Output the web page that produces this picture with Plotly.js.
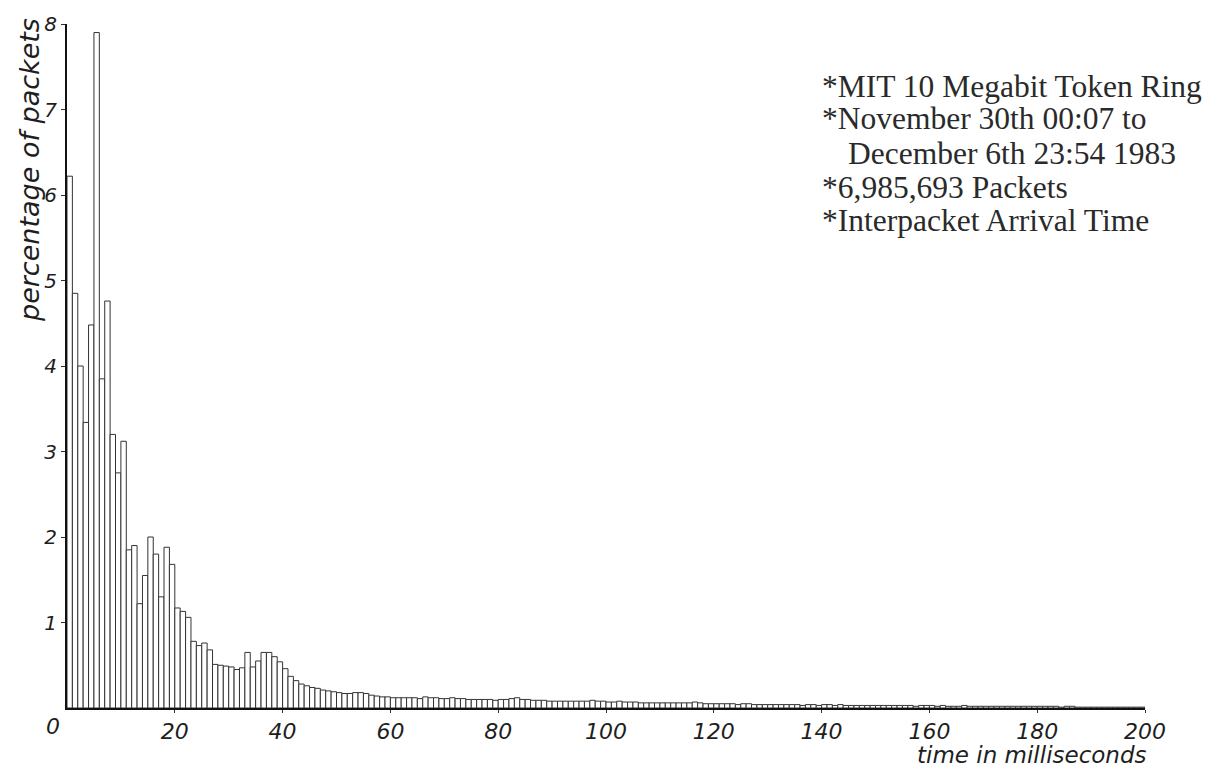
<!DOCTYPE html>
<html>
<head>
<meta charset="utf-8">
<script src="https://cdn.plot.ly/plotly-3.0.1.min.js"></script>
<style>
  html, body { margin: 0; padding: 0; background: #ffffff; }
  #chart { width: 1212px; height: 769px; }
</style>
</head>
<body>
<div id="chart"></div>
<script>
// Percentage of packets per 1 ms bin of interpacket arrival time
// bins 0..47 ms
const pctEarly = [6.22, 4.85, 4.00, 3.34, 4.48, 7.90, 3.85, 4.76, 3.20, 2.75,
                  3.12, 1.85, 1.90, 1.22, 1.55, 2.00, 1.80, 1.30, 1.88, 1.68,
                  1.17, 1.13, 1.06, 0.78, 0.73, 0.76, 0.68, 0.51, 0.50, 0.49,
                  0.48, 0.45, 0.47, 0.65, 0.48, 0.55, 0.65, 0.65, 0.60, 0.54,
                  0.46, 0.37, 0.32, 0.28, 0.26, 0.24, 0.23, 0.21];
// bins 48..199 ms
const pctTail = [0.20, 0.19,
                 0.18, 0.17, 0.17, 0.18, 0.18, 0.17, 0.15, 0.14, 0.13, 0.13,
                 0.12, 0.12, 0.12, 0.12, 0.12, 0.11, 0.13, 0.12, 0.12, 0.11,
                 0.11, 0.12, 0.11, 0.11, 0.10, 0.10, 0.10, 0.10, 0.10, 0.09,
                 0.10, 0.10, 0.11, 0.12, 0.10, 0.10, 0.09, 0.09, 0.09, 0.08,
                 0.08, 0.08, 0.08, 0.08, 0.08, 0.08, 0.08, 0.09, 0.08, 0.08,
                 0.07, 0.07, 0.08, 0.07, 0.07, 0.07, 0.06, 0.06, 0.06, 0.06,
                 0.06, 0.06, 0.06, 0.06, 0.06, 0.06, 0.07, 0.06, 0.05, 0.05,
                 0.05, 0.05, 0.05, 0.05, 0.04, 0.05, 0.05, 0.04, 0.04, 0.04,
                 0.04, 0.04, 0.04, 0.04, 0.04, 0.04, 0.03, 0.04, 0.04, 0.03,
                 0.04, 0.04, 0.03, 0.04, 0.03, 0.03, 0.03, 0.03, 0.03, 0.03,
                 0.03, 0.03, 0.03, 0.03, 0.03, 0.03, 0.03, 0.02, 0.03, 0.03,
                 0.03, 0.02, 0.03, 0.02, 0.02, 0.02, 0.03, 0.02, 0.02, 0.02,
                 0.02, 0.02, 0.02, 0.02, 0.02, 0.02, 0.02, 0.02, 0.02, 0.02,
                 0.02, 0.02, 0.02, 0.02, 0.01, 0.02, 0.02, 0.01, 0.01, 0.01,
                 0.01, 0.01, 0.01, 0.01, 0.01, 0.01, 0.01, 0.01, 0.01, 0.01];

const xTickVals = [20, 40, 60, 80, 100, 120, 140, 160, 180, 200];
const yTickVals = [1, 2, 3, 4, 5, 6, 7, 8];

const noteLines = ["*MIT 10 Megabit Token Ring",
                   "*November 30th 00:07 to",
                   "December 6th 23:54 1983",
                   "*6,985,693 Packets",
                   "*Interpacket Arrival Time"];

const pct = pctEarly.concat(pctTail);
const binCenters = pct.map((v, i) => i + 0.5);

// pixel helpers for placing text (plot area: x 67..1145, y 24..708)
const L = 67, R = 1145, T = 24, B = 708;
const px = p => (p - L) / (R - L);
const py = p => (B - p) / (B - T);

const ink = '#1e1e1e';
const sansItal = {family: 'DejaVu Sans', style: 'italic', color: ink};

const noteX = [820, 820, 846, 820, 820];
const noteY = [86, 119, 153, 187, 220];

const annotations = noteLines.map((t, k) => ({
  text: t, xref: 'paper', yref: 'paper',
  x: px(noteX[k]), y: py(noteY[k]), xanchor: 'left', yanchor: 'middle',
  showarrow: false,
  font: {family: 'Liberation Serif', size: 31.5, color: '#2a2a2a'}
}));

annotations.push({
  text: 'percentage of packets', xref: 'paper', yref: 'paper',
  x: px(30), y: py(16), xanchor: 'center', yanchor: 'top', textangle: -90,
  showarrow: false, font: Object.assign({size: 27}, sansItal)
});
annotations.push({
  text: 'time in milliseconds', xref: 'paper', yref: 'paper',
  x: px(1148), y: py(769), xanchor: 'right', yanchor: 'bottom', borderpad: 0,
  showarrow: false, font: Object.assign({size: 23}, sansItal)
});
annotations.push({
  text: '0', xref: 'paper', yref: 'paper',
  x: px(53), y: py(727), xanchor: 'center', yanchor: 'middle',
  showarrow: false, font: Object.assign({size: 22}, sansItal)
});

const trace = {
  type: 'bar',
  x: binCenters,
  y: pct,
  marker: {color: '#ffffff', line: {color: '#333333', width: 1}},
  hoverinfo: 'skip'
};

const layout = {
  width: 1212, height: 769,
  margin: {l: L, r: 1212 - R, t: T, b: 769 - B, pad: 0},
  paper_bgcolor: '#ffffff', plot_bgcolor: '#ffffff',
  showlegend: false,
  bargap: 0,
  xaxis: {
    range: [0, 200], tickvals: xTickVals, ticktext: xTickVals.map(String),
    showgrid: false, zeroline: false, showline: true, linecolor: '#111', linewidth: 2,
    ticks: 'outside', ticklen: 3, tickwidth: 1, tickcolor: '#333',
    tickfont: Object.assign({size: 22}, sansItal)
  },
  yaxis: {
    range: [0, 8], tickvals: yTickVals, ticktext: yTickVals.map(String),
    showgrid: false, zeroline: false, showline: true, linecolor: '#111', linewidth: 2,
    ticks: 'outside', ticklen: 4, tickwidth: 1, tickcolor: '#333',
    tickfont: Object.assign({size: 20}, sansItal)
  },
  annotations: annotations
};

Plotly.newPlot('chart', [trace], layout, {staticPlot: true, displayModeBar: false});
</script>
</body>
</html>
